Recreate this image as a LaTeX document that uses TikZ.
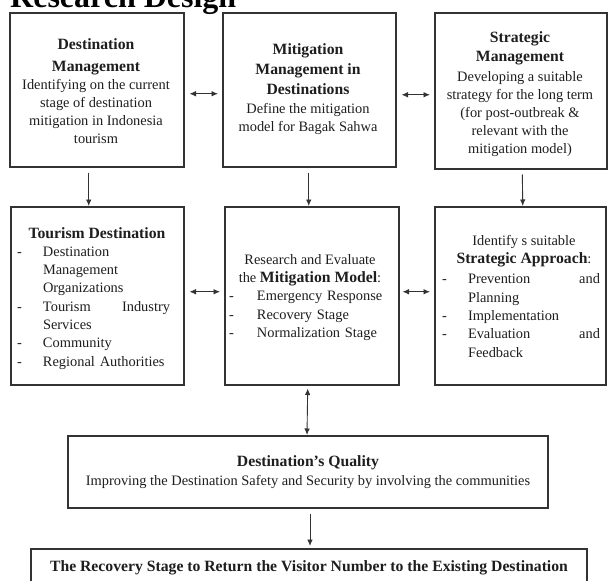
\documentclass[tikz,border=0pt]{standalone}
\usepackage{fontspec}
\setmainfont{Liberation Serif}
\usetikzlibrary{arrows.meta}
\definecolor{ink}{HTML}{1E1E1E}
\definecolor{edge}{HTML}{333333}
\newcommand\hd[1]{{\fontsize{15.7}{18}\selectfont\bfseries #1}}
\newcommand\dsh{\leavevmode\llap{-\hspace{21pt}}}
\newcommand\dshb{\leavevmode\llap{-\hspace{23pt}}}
\tikzset{
  box/.style={draw=edge, line width=1.5pt, rectangle, anchor=north west, inner sep=0pt},
  txt/.style={text=ink, font=\fontsize{14.4}{18}\selectfont, inner sep=0pt, align=center},
  lst/.style={text=ink, font=\fontsize{14.4}{18.3}\selectfont, inner sep=0pt, align=left},
  arr/.style={draw=edge, line width=0.9pt, -{Latex[length=6.5pt,width=5.5pt]}},
  darr/.style={draw=edge, line width=0.9pt, {Latex[length=6.5pt,width=5.5pt]}-{Latex[length=6.5pt,width=5.5pt]}}
}
\begin{document}
\begin{tikzpicture}[x=1pt,y=-1pt]
\useasboundingbox[fill=white] (0,0) rectangle (608,581);
% title
\node[anchor=base west, inner sep=0pt, text=black, font=\fontsize{32}{32}\selectfont\bfseries] (title) at (10,7) {Research Design};
% row 1 boxes
\node[box, minimum width=174pt, minimum height=154pt] (b1) at (9,12) {};
\node[box, minimum width=173pt, minimum height=154pt] (b2) at (222,12) {};
\node[box, minimum width=172pt, minimum height=156pt] (b3) at (434,12) {};
% row 2 boxes
\node[box, minimum width=173pt, minimum height=178pt] (b4) at (10,206) {};
\node[box, minimum width=174pt, minimum height=178pt] (b5) at (224,206) {};
\node[box, minimum width=171pt, minimum height=178pt] (b6) at (434,206) {};
% bottom boxes
\node[box, anchor=north, minimum width=480pt, minimum height=72pt, txt] (b7) at (308,435)
  {\hd{Destination’s Quality}\\[1pt]Improving the Destination Safety and Security by involving the communities};
\node[box, anchor=north, minimum width=556pt, minimum height=38pt, txt] (b8) at (309,548)
  {\hd{The Recovery Stage to Return the Visitor Number to the Existing Destination}};
% texts row 1
\node[txt] (t1) at (96,91) {\hd{Destination}\\[4pt]\hd{Management}\\Identifying on the current\\stage of destination\\mitigation in Indonesia\\tourism};
\node[txt] (t2) at (308,89.5) {\hd{Mitigation}\\[2pt]\hd{Management in}\\[2pt]\hd{Destinations}\\[1pt]Define the mitigation\\model for Bagak Sahwa};
\node[txt] (t3) at (520,94) {\hd{Strategic}\\[1pt]\hd{Management}\\[2pt]Developing a suitable\\strategy for the long term\\(for post-outbreak \&\\relevant with the\\mitigation model)};
% texts row 2
\node[txt] (t4h) at (97,233) {\hd{Tourism Destination}};
\node[lst, text width=127pt] (t4) at (106.5,308) {\dsh Destination\\Management\\Organizations\\\dsh Tourism\hfill Industry\\Services\\\dsh Community\\\dsh Regional Authorities};
\node[txt] (t5h) at (310,270) {Research and Evaluate\\the \hd{Mitigation Model}:};
\node[lst, text width=130pt] (t5) at (322,316) {\dshb Emergency Response\\\dshb Recovery Stage\\\dshb Normalization Stage};
\node[txt] (t6h) at (524,251) {Identify s suitable\\\hd{Strategic Approach}:};
\node[lst, text width=132pt] (t6) at (534,315.5) {\dsh Prevention\hfill and\\Planning\\\dsh Implementation\\\dsh Evaluation\hfill and\\Feedback};
% connectors
\draw[darr, shorten <=5pt, shorten >=4pt] ([yshift=-4pt]b1.east) -- ([yshift=-4pt]b2.west);
\draw[darr, shorten <=5pt, shorten >=4pt] ([yshift=-5pt]b2.east) -- ([yshift=-4pt]b3.west);
\draw[darr, shorten <=5pt, shorten >=4pt] ([yshift=4pt]b4.east) -- ([yshift=4pt]b5.west);
\draw[darr, shorten <=3pt, shorten >=4pt] ([yshift=4pt]b5.east) -- ([yshift=4pt]b6.west);
\draw[arr, shorten <=5pt] ([xshift=-8pt]b1.south) -- ([xshift=-8.5pt]b4.north);
\draw[arr, shorten <=5pt] ([xshift=-0.5pt]b2.south) -- ([xshift=-3pt]b5.north);
\draw[arr, shorten <=5pt] ([xshift=1.5pt]b3.south) -- ([xshift=2.5pt]b6.north);
\draw[darr, shorten <=3pt] ([xshift=-4pt]b5.south) -- ([xshift=-1pt]b7.north);
\draw[arr, shorten <=5pt, shorten >=2pt] ([xshift=2pt]b7.south) -- ([xshift=1pt]b8.north);
\end{tikzpicture}
\end{document}
